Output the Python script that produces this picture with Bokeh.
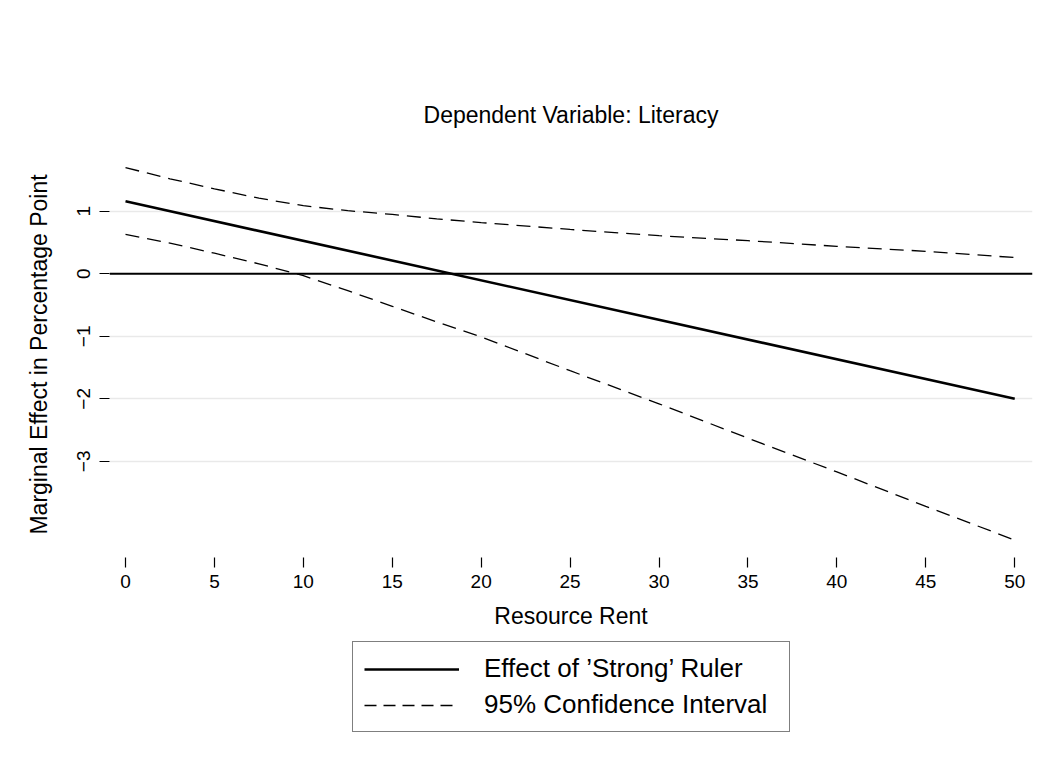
from bokeh.plotting import figure
from bokeh.layouts import column
from bokeh.models import (Range1d, FixedTicker, Span, Legend, LegendItem)
from bokeh.embed import file_html
from bokeh.resources import INLINE

# ---- data ----
x_effect = [0, 50]
effect = [1.16, -2.00]

x_ci = [0, 2.5, 5, 7.5, 10, 12.5, 15, 17.5, 20, 25, 30, 35, 40, 45, 50]
ci_upper = [1.70, 1.52, 1.36, 1.21, 1.09, 1.01, 0.95, 0.88, 0.82, 0.71, 0.61, 0.53, 0.44, 0.36, 0.26]
ci_lower = [0.63, 0.49, 0.33, 0.16, -0.03, -0.27, -0.52, -0.77, -1.01, -1.55, -2.08, -2.63, -3.17, -3.72, -4.26]

x_ticks = [0, 5, 10, 15, 20, 25, 30, 35, 40, 45, 50]
y_ticks = [-3, -2, -1, 0, 1]
y_tick_labels = {-3: "\u22123", -2: "\u22122", -1: "\u22121", 0: "0", 1: "1"}

title_text = "Dependent Variable: Literacy"
x_title = "Resource Rent"
y_title = "Marginal Effect in Percentage Point"
legend_labels = ["Effect of \u2019Strong\u2019 Ruler", "95% Confidence Interval"]

FONT = "Liberation Sans"
DASH = "14 8"

p = figure(width=1050, height=640, output_backend="svg", toolbar_location=None,
           x_range=Range1d(-0.9, 51.0), y_range=Range1d(-4.539, 1.957),
           min_border_left=109, min_border_right=18, min_border_top=151, min_border_bottom=83)
p.outline_line_color = None
p.background_fill_color = "white"
p.border_fill_color = "white"

# title
p.title.text = title_text
p.title.align = "center"
p.title.text_font = FONT
p.title.text_font_size = "23px"
p.title.text_font_style = "normal"
p.title.text_color = "black"
p.title.standoff = 48

# grid
p.xgrid.grid_line_color = None
p.ygrid.ticker = FixedTicker(ticks=[-3, -2, -1, 1])
p.ygrid.grid_line_color = "#e9e9e9"
p.ygrid.grid_line_width = 1.6

# axes
p.xaxis.ticker = FixedTicker(ticks=x_ticks)
p.yaxis.ticker = FixedTicker(ticks=y_ticks)
p.yaxis.major_label_overrides = y_tick_labels
for ax in (p.xaxis[0], p.yaxis[0]):
    ax.axis_line_color = None
    ax.major_tick_in = 0
    ax.major_tick_out = 10
    ax.major_tick_line_color = "black"
    ax.major_tick_line_width = 1.2
    ax.minor_tick_line_color = None
    ax.major_label_text_font = FONT
    ax.major_label_text_font_size = "19px"
    ax.major_label_text_color = "black"
    ax.axis_label_text_font = FONT
    ax.axis_label_text_font_size = "23px"
    ax.axis_label_text_font_style = "normal"
    ax.axis_label_text_color = "black"
p.xaxis.axis_label = x_title
p.yaxis.axis_label = y_title
p.yaxis.major_label_orientation = "vertical"
p.xaxis.major_label_standoff = 7
p.yaxis.major_label_standoff = 10
p.xaxis.axis_label_standoff = 12
p.yaxis.axis_label_standoff = 22

# zero line
p.add_layout(Span(location=0, dimension="width", line_color="black", line_width=2))

# lines
r_eff = p.line(x_effect, effect, line_color="black", line_width=2.6)
r_up = p.line(x_ci, ci_upper, line_color="black", line_width=1.3, line_dash=DASH)
r_lo = p.line(x_ci, ci_lower, line_color="black", line_width=1.3, line_dash=DASH)

# ---- legend strip below the chart (frame aligned with the chart's frame) ----
q = figure(width=1050, height=119, output_backend="svg", toolbar_location=None,
           x_range=Range1d(0, 1), y_range=Range1d(0, 1),
           min_border_left=109, min_border_right=18, min_border_top=0, min_border_bottom=0)
q.outline_line_color = None
q.axis.visible = False
q.grid.grid_line_color = None
q.background_fill_color = "white"
q.border_fill_color = "white"
# swatch renderers: their points lie outside the strip's ranges, only legend swatches show
l_eff = q.line([-10, -9], [-10, -10], line_color="black", line_width=2.6)
l_ci = q.line([-10, -9], [-10, -10], line_color="black", line_width=1.3, line_dash="12 7")

legend = Legend(items=[LegendItem(label=legend_labels[0], renderers=[l_eff]),
                       LegendItem(label=legend_labels[1], renderers=[l_ci])],
                location=(243, 27), orientation="vertical",
                border_line_color="black", border_line_width=1.2,
                background_fill_color="white", background_fill_alpha=1.0,
                padding=11, spacing=5, margin=0,
                glyph_width=95, glyph_height=26, label_height=26, label_width=294,
                label_standoff=25,
                label_text_font=FONT, label_text_font_size="26px", label_text_color="black")
q.add_layout(legend, "center")

layout = column(p, q, spacing=0)
open("out.html", "w").write(file_html(layout, INLINE))
